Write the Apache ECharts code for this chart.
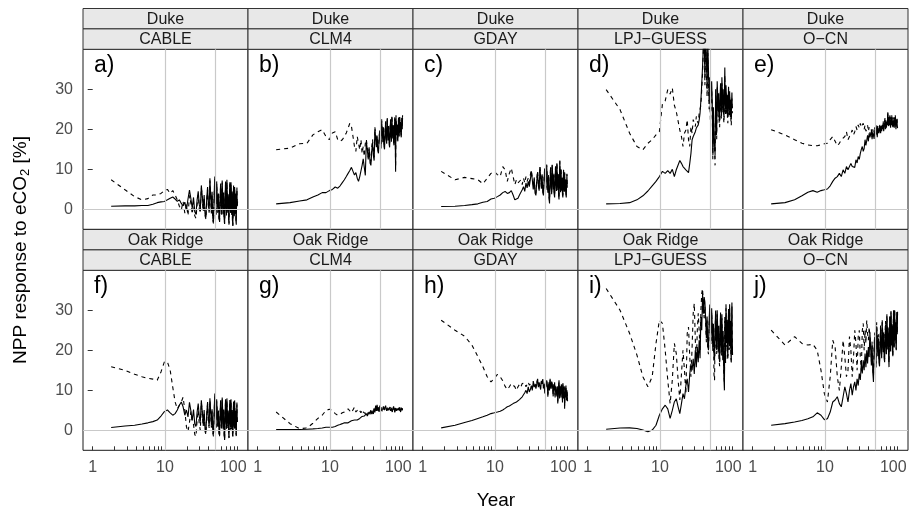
<!DOCTYPE html>
<html><head><meta charset="utf-8">
<script src="https://cdn.jsdelivr.net/npm/echarts@6/dist/echarts.min.js"></script>
<style>html,body{margin:0;padding:0;background:#fff}#c{width:918px;height:512px}</style>
</head><body><div id="c"></div>
<script>
// ---------- data ----------
const sites = ['Duke', 'Oak Ridge'];
const models = ['CABLE', 'CLM4', 'GDAY', 'LPJ\u2212GUESS', 'O\u2212CN'];
const panelLetters = ['a)', 'b)', 'c)', 'd)', 'e)', 'f)', 'g)', 'h)', 'i)', 'j)'];
const years = [1.8,2.8,3.8,4.8,5.8,6.8,7.8,8.8,9.8,10.8,11.8,12.8,13.8,14.8,15.8,16.8,17.8,18.8,19.8,20.8,
 21.8,22.8,23.8,24.8,25.8,26.8,27.8,28.8,29.8,30.8,31.8,32.8,33.8,34.8,35.8,36.8,37.8,38.8,39.8,40.8,
 41.8,42.8,43.8,44.8,45.8,46.8,47.8,48.8,49.8,50.8,51.8,52.8,53.8,54.8,55.8,56.8,57.8,58.8,59.8,60.8,
 61.8,62.8,63.8,64.8,65.8,66.8,67.8,68.8,69.8,70.8,71.8,72.8,73.8,74.8,75.8,76.8,77.8,78.8,79.8,80.8,
 81.8,82.8,83.8,84.8,85.8,86.8,87.8,88.8,89.8,90.8,91.8,92.8,93.8,94.8,95.8,96.8,97.8,98.8,99.8,100.8];
const xTickYears = [1,2,3,4,5,6,7,8,9,10,20,30,40,50,60,70,80,90,100];
const xTickLabels = ['1', '10', '100'];
const yTickValues = [0, 10, 20, 30];
const refYears = [10, 50];
const refNpp = [0];

const dukeCableSolid = [0.8,0.9,0.9,1.0,1.0,1.3,1.7,1.9,2.0,2.4,
 2.8,3.1,2.6,2.0,2.4,1.5,0.9,1.8,-0.1,2.6,
 4.8,2.7,0.3,3.0,-0.6,-1.2,2.4,4.5,1.2,0.0,
 6.0,3.2,0.0,3.6,-1.2,-2.0,2.8,5.6,1.2,-0.4,
 7.8,3.8,-0.6,4.4,-2.2,-3.2,3.3,8.2,1.1,-1.1,
 7.0,3.5,-0.5,4.0,-2.0,-3.0,3.0,6.5,1.0,-1.0,
 7.2,3.4,-0.8,4.2,-2.4,-3.3,2.8,7.0,0.8,-1.2,
 7.4,3.6,-0.4,3.8,-2.6,-3.5,3.2,6.8,1.2,-0.8,
 6.8,3.0,-1.0,4.5,-2.8,-4.1,2.6,6.0,0.6,-1.5,
 5.6,2.8,-0.8,4.0,-3.0,-3.8,2.5,5.5,1.0,2.0];
const dukeCableDashed = [7.4,4.9,3.2,2.4,2.7,3.6,3.6,4.0,4.7,5.0,
 4.0,4.7,3.6,2.4,0.8,-0.1,2.0,-0.9,1.2,-1.5,
 3.5,1.5,-1.2,2.0,-1.6,-2.2,1.2,3.6,0.2,-1.0,
 5.4,2.7,-0.5,3.1,-1.6,-2.4,2.3,5.0,0.8,-0.8,
 7.2,3.3,-1.0,3.9,-2.6,-3.5,2.8,7.6,0.7,-1.5,
 6.5,3.0,-0.9,3.5,-2.4,-3.3,2.6,6.0,0.6,-1.3,
 6.7,2.9,-1.2,3.7,-2.8,-3.6,2.4,6.5,0.4,-1.5,
 6.9,3.1,-0.8,3.3,-3.0,-3.8,2.8,6.3,0.8,-1.1,
 6.3,2.5,-1.4,4.0,-3.1,-4.0,2.2,5.5,0.3,-1.7,
 5.1,2.3,-1.1,3.5,-3.2,-3.6,2.1,5.0,0.7,1.8];
const dukeClm4Solid = [1.4,1.7,2.1,2.4,3.1,3.6,4.2,4.2,4.7,5.0,
 5.6,5.3,5.9,6.7,7.4,8.2,9.0,9.7,10.5,9.5,
 8.6,9.2,7.8,7.0,8.2,8.5,11.0,12.6,10.5,8.5,
 17.0,14.9,12.5,15.2,11.6,11.0,14.6,16.7,13.4,12.2,
 20.0,17.9,15.5,18.2,14.6,14.0,17.6,19.7,16.4,15.2,
 22.0,19.5,16.8,19.9,15.7,15.0,19.2,21.7,17.8,16.4,
 22.5,20.0,17.2,20.4,16.2,15.5,19.7,22.2,18.3,16.9,
 23.0,20.5,17.7,20.9,16.7,16.0,20.2,22.7,18.8,9.4,
 23.0,20.9,18.5,21.2,17.6,17.0,20.6,22.7,19.4,18.2,
 23.0,21.2,19.2,21.5,18.5,18.0,21.0,22.8,20.0,22.8];
const dukeClm4Dashed = [14.9,15.3,16.4,16.5,18.6,19.4,19.9,18.2,17.4,19.1,
 19.4,17.4,17.0,17.4,18.2,19.1,20.3,21.5,20.7,18.2,
 15.7,14.5,18.2,16.5,14.9,17.4,14.0,15.7,13.2,16.5,
 17.5,15.5,13.0,15.5,12.5,12.0,15.5,17.5,14.0,13.0,
 20.5,18.5,16.0,18.5,15.5,15.0,18.0,20.0,17.0,16.0,
 22.5,20.0,17.5,20.5,16.5,16.0,19.5,22.0,18.5,17.0,
 23.0,20.5,18.0,21.0,17.0,16.5,20.0,22.5,19.0,17.5,
 23.5,21.0,18.5,21.5,17.5,16.5,20.5,23.0,19.5,10.5,
 23.5,21.5,19.0,21.5,18.5,17.5,21.0,23.0,20.0,19.0,
 23.5,21.5,20.0,22.0,19.0,18.5,21.5,23.0,20.5,23.5];
const dukeGdaySolid = [0.75,0.8,1.0,1.2,1.4,1.8,2.0,2.6,2.8,3.2,
 3.6,4.2,4.5,4.0,4.2,4.7,3.6,2.4,2.2,2.8,
 3.6,3.2,4.9,5.7,4.5,6.6,5.4,7.0,5.7,7.4,
 9.5,7.4,5.0,7.7,4.1,3.5,7.1,9.2,5.9,4.7,
 10.5,8.0,5.2,8.4,4.2,3.5,7.7,10.2,6.3,4.9,
 11.0,7.9,4.2,8.3,2.9,1.5,7.4,10.5,5.6,3.8,
 11.0,8.2,5.0,8.6,3.8,3.0,7.8,10.6,6.2,4.6,
 11.5,8.4,4.8,8.8,3.4,2.5,7.9,12.2,6.1,4.3,
 10.0,7.6,4.7,7.9,3.7,3.0,7.2,9.7,5.8,4.4,
 9.0,6.9,4.5,7.2,3.6,3.0,6.6,8.7,5.4,5.3];
const dukeGdayDashed = [9.5,7.4,8.0,7.7,7.4,6.4,7.8,9.0,9.4,8.7,
 8.2,10.7,9.9,7.0,9.0,10.3,8.2,6.2,7.4,6.6,
 7.0,7.4,6.2,7.8,6.6,8.2,7.0,7.8,6.6,8.6,
 9.8,7.9,5.6,8.0,4.6,4.0,7.5,9.6,6.4,5.2,
 10.8,8.5,5.7,8.8,4.8,4.0,8.0,10.5,6.8,5.4,
 11.2,8.3,4.8,8.6,3.4,2.1,7.8,10.7,6.0,4.3,
 11.2,8.6,5.5,8.9,4.3,3.5,8.1,10.8,6.6,5.0,
 11.7,8.8,5.3,9.1,3.9,3.0,8.2,12.0,6.5,4.8,
 10.3,8.0,5.2,8.2,4.2,3.5,7.6,9.9,6.2,4.9,
 9.3,7.3,5.0,7.5,4.1,3.5,7.0,8.9,5.8,5.8];
const dukeLpjSolid = [1.4,1.5,1.7,2.4,3.4,4.6,5.9,7.0,8.2,9.5,
 9.0,9.7,9.0,10.0,8.2,9.9,11.1,12.2,11.5,10.7,
 10.3,9.9,9.5,9.2,11.5,14.0,17.4,18.2,17.8,19.4,
 20.3,20.7,21.1,22.3,24.0,27.3,31.5,35.7,41.0,44.0,
 33.0,45.0,38.0,30.0,42.0,35.0,27.0,33.0,24.0,29.0,
 32.0,27.0,14.0,25.5,18.0,16.0,13.6,30.0,22.5,19.0,
 32.0,28.5,24.5,29.0,23.0,22.0,28.0,31.5,26.0,24.0,
 33.0,29.5,25.5,30.0,24.0,23.0,29.0,35.4,27.0,25.0,
 31.0,28.2,25.0,28.6,23.8,23.0,27.8,30.6,26.2,24.6,
 29.5,27.0,24.2,27.4,23.2,22.5,26.7,29.2,25.3,25.7];
const dukeLpjDashed = [29.9,24.9,19.0,15.7,14.9,16.5,17.4,18.6,19.4,26.3,
 27.1,29.9,28.8,30.3,26.0,24.4,24.4,19.8,18.2,15.7,
 19.0,19.8,22.4,17.4,15.7,20.7,19.0,22.4,22.8,20.7,
 23.2,22.0,21.5,24.0,25.0,26.0,30.0,34.0,40.0,42.0,
 31.0,43.0,35.0,28.0,39.0,32.0,25.0,31.0,22.0,27.0,
 30.0,25.0,12.5,23.5,16.5,14.0,11.0,28.0,21.0,17.5,
 30.5,27.0,23.0,27.5,21.5,20.5,26.5,30.0,24.5,22.5,
 31.5,28.0,24.0,28.5,22.5,21.5,27.5,33.5,25.5,23.5,
 29.5,26.8,23.5,27.0,22.5,21.5,26.3,29.0,24.7,23.2,
 28.0,25.5,22.8,26.0,21.8,21.0,25.2,27.7,24.0,24.5];
const dukeOcnSolid = [1.4,1.7,2.4,3.4,4.3,4.7,4.3,4.7,4.9,5.1,
 5.9,7.0,7.8,8.2,9.0,8.2,9.9,9.0,10.7,9.9,
 10.3,11.5,10.7,10.3,10.5,12.4,11.6,13.2,12.5,14.0,
 15.0,15.7,14.5,15.2,17.4,16.0,17.2,18.5,17.0,19.0,
 18.0,17.8,19.5,17.5,19.4,18.5,17.6,20.0,18.5,19.0,
 20.5,18.0,20.3,19.5,19.0,20.8,21.1,19.0,20.5,19.5,
 21.0,20.0,21.5,19.5,19.4,21.5,22.4,20.0,21.5,20.4,
 22.0,21.0,24.0,21.5,20.8,23.0,21.0,23.2,21.5,20.4,
 22.5,21.0,23.0,21.5,21.8,20.5,22.5,22.4,21.0,20.4,
 22.5,21.0,23.0,21.5,20.0,22.0,21.0,22.5,21.0,20.3];
const dukeOcnDashed = [19.9,18.6,17.4,16.5,16.1,15.9,15.9,16.1,16.4,16.5,
 17.4,18.2,17.0,15.9,16.5,17.4,17.0,18.2,19.4,17.4,
 18.2,19.0,19.8,18.6,19.4,20.7,19.8,21.1,20.3,21.5,
 20.5,20.7,21.5,20.0,21.0,19.5,20.0,21.0,19.5,20.5,
 19.0,18.5,20.0,18.0,20.0,19.0,18.2,20.5,19.0,19.5,
 21.0,18.5,20.8,20.0,19.5,21.2,21.5,19.5,21.0,20.0,
 21.5,20.5,22.0,20.0,20.0,22.0,23.0,20.5,22.0,21.0,
 22.5,21.5,24.5,22.0,21.2,23.5,21.5,23.8,22.0,21.0,
 23.0,21.5,23.5,22.0,22.2,21.0,23.0,22.8,21.5,21.0,
 23.0,21.5,23.5,22.0,20.5,22.5,21.5,23.0,21.5,21.0];
const oakCableSolid = [0.75,1.1,1.3,1.6,1.9,2.2,2.6,3.6,4.7,5.1,
 4.4,3.8,4.2,5.1,6.3,7.1,5.9,3.8,5.1,3.4,
 7.0,4.9,2.5,5.2,1.6,1.0,4.6,6.7,3.4,2.2,
 7.5,4.7,1.5,5.1,0.3,-0.5,4.3,7.1,2.7,1.1,
 8.0,4.9,1.2,5.3,-0.1,-1.0,4.4,9.2,2.6,0.8,
 7.8,4.6,1.0,5.0,-0.3,-1.2,4.2,7.5,2.4,0.6,
 8.2,4.8,0.8,5.2,-0.8,-2.4,4.4,7.8,2.6,0.9,
 8.0,4.7,1.1,5.0,-0.5,-1.8,4.3,7.6,2.5,0.7,
 7.8,4.5,0.8,5.1,-0.4,-1.5,4.1,7.2,2.4,0.8,
 7.5,4.4,1.0,4.9,-0.2,-1.2,4.0,7.0,2.6,2.1];
const oakCableDashed = [15.9,15.0,14.0,13.4,13.0,12.8,12.5,14.6,17.1,17.1,
 15.0,10.8,7.1,5.4,6.3,7.1,8.3,5.0,0.9,-0.3,
 2.0,4.7,2.0,1.5,-1.0,-1.5,2.5,5.0,1.5,0.0,
 7.0,4.2,1.0,4.6,-0.2,-1.0,3.8,6.6,2.2,0.6,
 7.5,4.4,0.7,4.8,-0.6,-1.5,3.9,8.7,2.1,0.3,
 7.3,4.1,0.5,4.5,-0.8,-1.7,3.7,7.0,1.9,0.1,
 7.7,4.3,0.3,4.7,-1.3,-2.2,3.9,7.3,2.1,0.4,
 7.5,4.2,0.6,4.5,-1.0,-1.9,3.8,7.1,2.0,0.2,
 7.3,4.0,0.3,4.6,-0.9,-1.6,3.6,6.7,1.9,0.3,
 7.0,3.9,0.5,4.4,-0.7,-1.4,3.5,6.5,2.1,2.5];
const oakClm4Solid = [0.25,0.25,0.25,0.3,0.4,0.5,0.6,0.8,0.8,0.8,
 1.0,1.3,1.5,1.7,1.9,2.1,1.9,2.1,2.4,2.3,
 2.6,2.7,2.6,2.8,3.0,2.7,3.5,3.1,3.6,3.3,
 4.2,3.6,4.1,4.6,4.0,5.0,4.1,4.7,4.1,5.4,
 4.5,6.2,4.9,6.4,4.9,5.7,4.6,6.2,5.2,5.8,
 5.0,4.6,5.5,6.0,5.2,4.9,5.6,6.2,5.4,4.9,
 5.5,5.7,5.0,4.6,5.6,5.3,6.0,4.9,5.5,5.7,
 5.2,4.6,5.4,5.3,6.0,5.9,5.0,4.5,5.6,5.5,
 6.0,4.9,5.5,5.7,5.0,4.6,5.5,5.7,5.2,5.0,
 5.8,5.3,5.5,4.6,5.2,5.7,5.0,5.1,5.6,5.0];
const oakClm4Dashed = [4.6,1.7,0.45,0.6,1.8,3.0,3.8,5.0,5.3,5.0,
 4.2,3.8,4.0,4.4,4.6,4.6,5.4,5.0,4.4,4.6,
 5.8,4.6,4.2,5.4,5.0,4.4,5.2,4.6,5.0,4.2,
 4.8,3.9,4.5,5.0,4.3,5.4,4.4,5.0,4.3,5.6,
 4.8,6.0,5.1,6.2,5.1,5.9,4.8,6.0,5.4,5.6,
 5.2,4.8,5.7,5.8,5.4,5.1,5.4,6.0,5.6,5.1,
 5.3,5.9,5.2,4.8,5.4,5.5,5.8,5.1,5.7,5.5,
 5.4,4.8,5.6,5.1,5.8,5.7,5.2,4.7,5.4,5.7,
 5.8,5.1,5.7,5.5,5.2,4.8,5.7,5.5,5.4,5.2,
 5.6,5.5,5.3,4.8,5.4,5.5,5.2,5.3,5.4,5.2];
const oakGdaySolid = [0.65,1.3,2.0,2.5,3.0,3.4,3.8,4.2,4.4,4.6,
 4.8,5.1,5.5,5.9,6.1,6.5,6.7,6.9,7.1,7.4,
 7.7,8.1,8.4,8.8,9.4,10.0,9.2,10.9,9.6,10.2,
 11.2,10.0,12.1,10.8,11.5,10.4,11.6,12.9,10.8,12.0,
 11.0,10.2,12.4,11.6,12.8,10.5,11.4,9.2,11.8,10.8,
 12.5,11.9,8.4,10.5,12.0,10.0,12.9,11.0,10.4,12.2,
 11.6,10.5,8.5,11.5,10.0,12.0,8.2,11.0,10.8,9.5,
 8.5,11.0,6.7,9.0,10.8,12.5,8.0,10.5,11.0,9.0,
 8.2,11.5,9.5,10.5,7.0,11.8,10.2,8.0,8.5,11.0,
 5.4,9.5,8.2,10.5,11.2,8.0,7.5,10.0,9.0,7.3];
const oakGdayDashed = [27.5,25.0,23.5,21.3,18.4,15.9,13.4,12.1,13.0,14.0,
 13.4,12.4,11.0,10.2,10.9,11.7,12.1,10.9,10.0,10.9,
 11.5,10.9,11.7,11.3,11.9,10.9,11.5,12.1,11.3,11.7,
 11.8,10.6,12.3,11.2,11.7,10.8,11.9,12.7,11.2,12.2,
 11.4,10.6,12.2,11.8,12.5,10.8,11.6,9.8,12.0,11.1,
 12.2,11.7,8.9,10.8,11.8,10.4,12.6,11.2,10.7,12.0,
 11.4,10.8,9.0,11.2,10.3,11.7,8.7,10.8,10.6,9.8,
 8.9,10.8,7.2,9.3,10.6,12.1,8.4,10.3,10.8,9.3,
 8.6,11.2,9.7,10.3,7.5,11.5,10.0,8.4,8.8,10.7,
 6.0,9.3,8.5,10.2,10.9,8.3,7.9,9.8,9.1,7.8];
const oakLpjSolid = [0.3,0.6,0.65,0.5,0.1,-0.3,0.1,1.3,3.8,5.4,
 6.3,5.4,3.0,5.0,7.1,7.9,5.9,4.2,6.7,9.2,
 7.9,11.2,12.9,9.6,14.1,16.6,15.0,17.9,14.1,20.0,
 15.8,20.8,17.0,22.5,18.0,28.3,25.0,34.2,29.1,33.3,
 32.0,27.8,23.0,28.4,21.2,20.0,27.2,31.4,24.8,22.4,
 30.5,26.0,20.8,26.6,18.8,17.5,25.3,29.9,22.7,20.1,
 30.0,25.5,20.3,26.1,18.3,17.0,24.8,29.4,22.2,19.6,
 29.0,24.1,18.5,24.8,16.4,12.4,10.0,28.3,20.6,17.8,
 31.5,27.0,21.8,27.6,19.8,18.5,26.3,30.3,23.7,21.1,
 31.5,26.6,21.0,27.3,18.9,17.5,25.9,31.9,23.1,18.8];
const oakLpjDashed = [35.4,30.0,24.2,18.8,13.4,10.9,13.4,21.7,27.5,26.7,
 20.0,12.6,6.7,12.6,21.7,19.2,12.6,7.6,14.1,20.0,
 15.0,9.2,24.2,25.8,18.3,13.4,20.8,29.2,31.7,22.5,
 16.7,25.0,29.2,25.0,20.0,30.0,34.2,35.4,31.0,28.0,
 31.0,26.8,22.0,27.4,20.2,19.0,26.2,30.4,23.8,21.4,
 29.5,25.0,19.8,25.6,14.0,12.5,24.3,28.9,21.7,19.1,
 29.0,24.5,19.3,25.1,17.3,16.0,23.8,28.4,21.2,18.6,
 28.0,23.1,17.5,23.8,15.4,13.4,12.0,27.3,19.6,16.8,
 30.5,26.0,20.8,26.6,18.8,17.5,25.3,29.3,22.7,20.1,
 30.5,25.6,20.0,26.3,17.9,16.5,24.9,30.9,22.1,19.5];
const oakOcnSolid = [1.3,1.7,2.1,2.5,2.9,3.4,4.4,3.8,2.7,2.9,
 4.6,7.1,7.6,8.4,6.7,5.9,8.4,10.9,9.2,7.1,
 10.0,11.7,8.8,10.9,12.1,10.0,12.9,11.2,14.2,12.6,
 16.7,14.2,17.5,15.0,19.2,15.8,20.0,16.7,20.8,18.3,
 24.5,20.6,16.2,21.2,14.6,12.1,20.1,23.4,17.9,15.7,
 26.0,22.5,18.5,23.0,17.0,16.0,22.0,25.5,20.0,18.0,
 27.0,23.5,19.5,24.0,18.0,17.0,23.0,26.5,21.0,19.0,
 28.5,24.6,20.2,25.2,18.6,15.8,24.1,28.3,21.9,19.7,
 29.5,25.6,21.2,26.2,19.6,18.5,25.1,30.0,22.9,20.7,
 30.0,26.5,22.5,27.0,21.0,20.0,26.0,29.5,24.0,29.6];
const oakOcnDashed = [25.0,21.3,23.4,21.7,21.3,21.5,20.0,15.0,9.2,7.1,
 13.4,22.5,20.8,13.4,10.0,15.8,22.5,18.3,13.4,15.0,
 23.4,20.0,13.4,18.3,25.0,21.7,15.0,23.4,25.0,18.3,
 15.0,25.0,26.7,20.0,25.0,21.7,27.5,24.2,22.5,25.8,
 25.5,21.6,17.2,22.2,15.6,13.5,21.1,24.4,18.9,16.7,
 27.0,23.5,19.5,24.0,18.0,17.0,23.0,26.5,21.0,19.0,
 27.8,24.3,20.3,24.8,18.8,17.8,23.8,27.3,21.8,19.8,
 29.0,25.1,20.7,25.7,19.1,16.8,24.6,28.5,22.4,20.2,
 29.8,25.9,21.5,26.5,19.9,18.8,25.4,30.0,23.2,21.0,
 30.2,26.7,22.7,27.2,21.2,20.2,26.2,29.6,24.2,29.0];

const panelSeries = [
  [dukeCableSolid, dukeCableDashed], [dukeClm4Solid, dukeClm4Dashed], [dukeGdaySolid, dukeGdayDashed],
  [dukeLpjSolid, dukeLpjDashed], [dukeOcnSolid, dukeOcnDashed],
  [oakCableSolid, oakCableDashed], [oakClm4Solid, oakClm4Dashed], [oakGdaySolid, oakGdayDashed],
  [oakLpjSolid, oakLpjDashed], [oakOcnSolid, oakOcnDashed]
];

// ---------- layout ----------
const FF = '"Liberation Sans", Arial, Helvetica, sans-serif';
const P_LEFT = 83, P_W = 165, P_H = 180, ROW0_TOP = 49.3, ROW_STEP = 221, STRIP_H = 20.4;
const X_LOG_MIN = -0.1342, X_LOG_MAX = 2.148;
const Y_MIN = -4.95, Y_MAX = 39.95;

const grids = [], xAxes = [], yAxes = [], series = [], gfx = [];
for (let r = 0; r < 2; r++) {
  for (let c = 0; c < 5; c++) {
    const k = r * 5 + c;
    const gl = P_LEFT + P_W * c, gt = ROW0_TOP + ROW_STEP * r;
    grids.push({left: gl, top: gt, width: P_W, height: P_H, show: true,
      borderColor: '#1a1a1a', borderWidth: 1, backgroundColor: '#fff'});
    xAxes.push({type: 'log', logBase: 10, gridIndex: k, position: 'top', show: false,
      min: Math.pow(10, X_LOG_MIN), max: Math.pow(10, X_LOG_MAX)});
    xAxes.push({type: 'value', gridIndex: k, position: 'bottom', show: r === 1,
      min: X_LOG_MIN, max: X_LOG_MAX,
      axisLine: {show: false}, splitLine: {show: false},
      axisTick: {show: true, inside: true, length: 4, lineStyle: {color: '#333', width: 1},
        customValues: xTickYears.map(v => Math.log10(v))},
      axisLabel: {show: true, customValues: [0, 1, 2], margin: 9, fontSize: 16, fontFamily: FF, color: '#4d4d4d',
        formatter: v => { const i = Math.round(v); return i === 2 ? '{r|' + xTickLabels[i] + '}' : xTickLabels[i]; },
        rich: {r: {fontSize: 16, fontFamily: FF, color: '#4d4d4d', padding: [0, 8, 0, 0]}}}});
    yAxes.push({type: 'value', gridIndex: k, show: c === 0, min: Y_MIN, max: Y_MAX,
      axisLine: {show: false}, splitLine: {show: false},
      axisTick: {show: true, inside: false, length: 5, lineStyle: {color: '#333', width: 1}, customValues: yTickValues},
      axisLabel: {customValues: yTickValues, margin: 10, fontSize: 16, fontFamily: FF, color: '#4d4d4d'}});
    // reference lines (drawn behind data)
    series.push({type: 'line', xAxisIndex: 2 * k, yAxisIndex: k, data: [], z: 1, silent: true,
      markLine: {silent: true, symbol: 'none', animation: false, label: {show: false},
        lineStyle: {color: '#c9c9c9', width: 1.2, type: 'solid'},
        emphasis: {disabled: true},
        data: refYears.map(v => ({xAxis: v})).concat(refNpp.map(v => ({yAxis: v})))}});
    const [solid, dashed] = panelSeries[k];
    series.push({type: 'line', name: 'dashed', xAxisIndex: 2 * k, yAxisIndex: k, z: 2, silent: true,
      symbol: 'none', showSymbol: false, animation: false, clip: true,
      lineStyle: {color: '#000', width: 1.1, type: [4, 4]},
      data: years.map((x, i) => [x, dashed[i]])});
    series.push({type: 'line', name: 'solid', xAxisIndex: 2 * k, yAxisIndex: k, z: 3, silent: true,
      symbol: 'none', showSymbol: false, animation: false, clip: true,
      lineStyle: {color: '#000', width: 1.1, type: 'solid'},
      data: years.map((x, i) => [x, solid[i]])});
    // strips
    const s1 = gt - 2 * STRIP_H, s2 = gt - STRIP_H;
    gfx.push({type: 'rect', silent: true, shape: {x: gl, y: s1, width: P_W, height: STRIP_H},
      style: {fill: '#e8e8e8', stroke: '#333', lineWidth: 1}});
    gfx.push({type: 'rect', silent: true, shape: {x: gl, y: s2, width: P_W, height: STRIP_H},
      style: {fill: '#e8e8e8', stroke: '#333', lineWidth: 1}});
    gfx.push({type: 'text', silent: true, x: gl + P_W / 2, y: s1 + STRIP_H / 2 + 0.5,
      style: {text: sites[r], font: '16px ' + FF, fill: '#1a1a1a', align: 'center', verticalAlign: 'middle'}});
    gfx.push({type: 'text', silent: true, x: gl + P_W / 2, y: s2 + STRIP_H / 2 + 0.5,
      style: {text: models[c], font: '16px ' + FF, fill: '#1a1a1a', align: 'center', verticalAlign: 'middle'}});
    gfx.push({type: 'text', silent: true, z: 10, x: gl + 11, y: gt + 16,
      style: {text: panelLetters[k], font: '23px ' + FF, fill: '#000', align: 'left', verticalAlign: 'middle'}});
  }
}
gfx.push({type: 'text', silent: true, x: 21, y: 250, rotation: Math.PI / 2,
  style: {text: '{t|NPP response to eCO}{s|2}{t| [%]}', align: 'center', verticalAlign: 'middle',
    rich: {t: {fontSize: 19, fontFamily: FF, fill: '#000'},
           s: {fontSize: 13, fontFamily: FF, fill: '#000', padding: [9, 0, 0, 0]}}}});
gfx.push({type: 'text', silent: true, x: 496, y: 501,
  style: {text: 'Year', font: '19px ' + FF, fill: '#000', align: 'center', verticalAlign: 'middle'}});

const chart = echarts.init(document.getElementById('c'), null, {renderer: 'canvas'});
chart.setOption({
  animation: false,
  backgroundColor: '#fff',
  grid: grids, xAxis: xAxes, yAxis: yAxes, series: series,
  graphic: {elements: gfx}
});
</script></body></html>
